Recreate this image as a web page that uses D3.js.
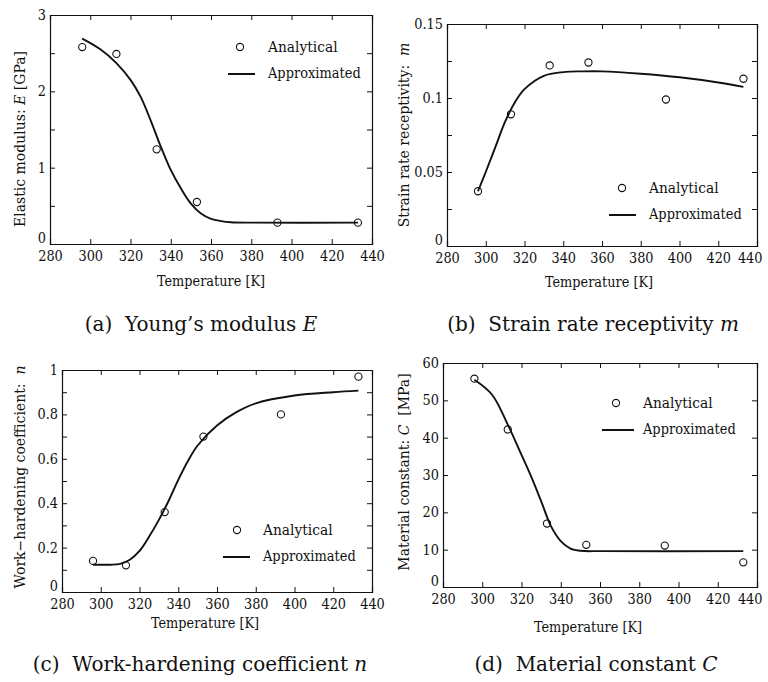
<!DOCTYPE html>
<html>
<head>
<meta charset="utf-8">
<script src="https://cdn.jsdelivr.net/npm/d3@7"></script>
<style>
  body { margin: 0; background: #fff; }
  svg { display: block; }
  svg text { font-family: 'DejaVu Serif', 'Liberation Serif', serif; fill: #111; }
</style>
</head>
<body>
<svg id="chart" width="768" height="682"></svg>
<script>
// ---- Data ----
const tempAnalytical = [296, 313, 333, 353, 393, 433];

const E_analytical = [2.58, 2.49, 1.24, 0.55, 0.28, 0.28];
const E_fitT = [296, 305, 313, 320, 325, 330, 335, 340, 345, 350, 355, 360, 365, 370, 380, 433];
const E_fit  = [2.69, 2.55, 2.37, 2.15, 1.93, 1.62, 1.28, 0.97, 0.73, 0.53, 0.40, 0.33, 0.30, 0.285, 0.28, 0.28];

const m_analytical = [0.037, 0.089, 0.122, 0.124, 0.099, 0.113];
const m_fitT = [296, 300, 305, 310, 315, 320, 330, 340, 350, 360, 380, 400, 420, 433];
const m_fit  = [0.037, 0.050, 0.067, 0.084, 0.097, 0.106, 0.1150, 0.1175, 0.118, 0.118, 0.1164, 0.114, 0.1105, 0.1075];

const n_analytical = [0.14, 0.12, 0.36, 0.70, 0.80, 0.97];
const n_fitT = [296, 305, 310, 315, 320, 325, 330, 335, 340, 345, 350, 360, 370, 380, 400, 420, 433];
const n_fit  = [0.123, 0.123, 0.127, 0.145, 0.185, 0.25, 0.325, 0.41, 0.505, 0.59, 0.66, 0.75, 0.81, 0.85, 0.885, 0.90, 0.907];

const C_analytical = [55.8, 42.2, 17.0, 11.3, 11.1, 6.6];
const C_fitT = [296, 305, 313, 320, 325, 330, 335, 340, 345, 350, 360, 433];
const C_fit  = [55.5, 51.5, 43.5, 35.4, 29.5, 23.0, 16.3, 12.3, 10.3, 9.7, 9.6, 9.6];

const xTicks = [280, 300, 320, 340, 360, 380, 400, 420, 440];
const E_ticks = [0, 1, 2, 3];
const m_ticks = [0, 0.05, 0.1, 0.15];
const n_ticks = [0, 0.2, 0.4, 0.6, 0.8, 1];
const C_ticks = [0, 10, 20, 30, 40, 50, 60];

const legendLabels = ["Analytical", "Approximated"];
const xTitle = "Temperature [K]";

// ---- Layout ----
const W = 768;
const FONT_STYLE = "font-family: 'DejaVu Serif', 'Liberation Serif', serif";
const FS = 14;          // axis / legend font size
const SQUEEZE = 0.92;   // horizontal condensing to mimic a Times-like face
const condense = (sel, f) => sel.each(function() {
  const w = this.getComputedTextLength();
  if (w > 0) d3.select(this).attr("textLength", w * f).attr("lengthAdjust", "spacingAndGlyphs");
});

const panels = [
  { x0: 50, x1: 372, y0: 15, y1: 244, yDom: [0, 3], ticks: E_ticks, minor: 0.5,
    pts: E_analytical, fitT: E_fitT, fit: E_fit,
    yLab: ["Elastic modulus: ", "E", " [GPa]"], yLabX: 20, yLabY: 139,
    xTickY: 261, xTitleX: 211, xTitleY: 286,
    leg: { cx: 240, cy: 47, tx: 268, ty1: 52, lx0: 228, lx1: 255, ly: 74, ty2: 78 },
    cap: ["(a)", "Young\u2019s modulus ", "E"], capX: 201, capY: 331 },
  { x0: 447, x1: 757, y0: 24, y1: 246, yDom: [0, 0.15], ticks: m_ticks, minor: 0.025,
    pts: m_analytical, fitT: m_fitT, fit: m_fit,
    yLab: ["Strain rate receptivity:  ", "m", ""], yLabX: 404, yLabY: 135,
    xTickY: 263, xTitleX: 599, xTitleY: 287,
    leg: { cx: 622, cy: 188, tx: 649, ty1: 193, lx0: 609, lx1: 636, ly: 215, ty2: 219 },
    cap: ["(b)", "Strain rate receptivity ", "m"], capX: 593, capY: 331 },
  { x0: 62, x1: 372, y0: 370, y1: 592, yDom: [0, 1], ticks: n_ticks, minor: 0.1,
    pts: n_analytical, fitT: n_fitT, fit: n_fit,
    yLab: ["Work\u2212hardening coefficient:  ", "n", ""], yLabX: 20, yLabY: 477,
    xTickY: 609, xTitleX: 205, xTitleY: 628,
    leg: { cx: 237, cy: 530, tx: 263, ty1: 535, lx0: 223, lx1: 250, ly: 557, ty2: 561 },
    cap: ["(c)", "Work-hardening coefficient ", "n"], capX: 200, capY: 671 },
  { x0: 443, x1: 757, y0: 363, y1: 587, yDom: [0, 60], ticks: C_ticks, minor: 10,
    pts: C_analytical, fitT: C_fitT, fit: C_fit,
    yLab: ["Material constant: ", "C", "  [MPa]"], yLabX: 404, yLabY: 472,
    xTickY: 604, xTitleX: 588, xTitleY: 632,
    leg: { cx: 616, cy: 403, tx: 643, ty1: 408, lx0: 602, lx1: 634, ly: 430, ty2: 434 },
    cap: ["(d)", "Material constant ", "C"], capX: 596, capY: 671 }
];

const svg = d3.select("#chart");

panels.forEach(p => {
  const x = d3.scaleLinear().domain([280, 440]).range([p.x0, p.x1]);
  const y = d3.scaleLinear().domain(p.yDom).range([p.y1, p.y0]);
  const g = svg.append("g");
  const tickLen = 5;

  const yAll = d3.range(p.yDom[0], p.yDom[1] + p.minor / 2, p.minor);
  const isMajor = d => p.ticks.some(t => Math.abs(t - d) < 1e-9);

  const axB = d3.axisBottom(x).tickValues(xTicks).tickSize(-tickLen).tickFormat(d => d);
  const axT = d3.axisTop(x).tickValues(xTicks).tickSize(-tickLen).tickFormat("");
  const axL = d3.axisLeft(y).tickValues(yAll).tickSize(-tickLen).tickPadding(4)
      .tickFormat(d => isMajor(d) ? String(+d.toFixed(4)) : "");
  const axR = d3.axisRight(y).tickValues(yAll).tickSize(-tickLen).tickFormat("");

  const styleAxis = sel => {
    sel.attr("font-family", null).attr("font-size", FS);
    sel.select(".domain").attr("stroke", "#111").attr("stroke-width", 1.2);
    sel.selectAll(".tick line").attr("stroke", "#111").attr("stroke-width", 1);
    sel.selectAll("text").attr("style", FONT_STYLE).attr("font-size", FS).attr("fill", "#111");
  };

  const gb = g.append("g").attr("transform", `translate(0,${p.y1})`).call(axB).call(styleAxis);
  gb.selectAll("text").attr("y", p.xTickY - p.y1).attr("dy", 0).call(condense, SQUEEZE);
  // keep the last x label inside the page (with a small margin)
  gb.selectAll(".tick text").each(function(d) {
    const w = Math.max(this.getBBox().width, this.getComputedTextLength());
    const over = x(d) + w / 2 - (W - 6);
    if (over > 0) d3.select(this).attr("dx", -over);
  });
  g.append("g").attr("transform", `translate(0,${p.y0})`).call(axT).call(styleAxis);
  const gl = g.append("g").attr("transform", `translate(${p.x0},0)`).call(axL).call(styleAxis);
  gl.selectAll(".tick text").call(condense, SQUEEZE);
  gl.selectAll(".tick text").filter(d => Math.abs(d) < 1e-12).attr("dy", "-0.1em");
  g.append("g").attr("transform", `translate(${p.x1},0)`).call(axR).call(styleAxis);

  // fitted curve
  const line = d3.line().x(d => x(d[0])).y(d => y(d[1])).curve(d3.curveCatmullRom.alpha(0.5));
  g.append("path").datum(p.fitT.map((t, i) => [t, p.fit[i]]))
    .attr("d", line).attr("fill", "none").attr("stroke", "#111").attr("stroke-width", 1.9);

  // analytical points
  g.selectAll("circle.pt").data(tempAnalytical.map((t, i) => [t, p.pts[i]])).enter()
    .append("circle").attr("class", "pt")
    .attr("cx", d => x(d[0])).attr("cy", d => y(d[1])).attr("r", 3.6)
    .attr("fill", "none").attr("stroke", "#111").attr("stroke-width", 1.1);

  // x title
  g.append("text").attr("x", p.xTitleX).attr("y", p.xTitleY).attr("text-anchor", "middle")
    .attr("style", FONT_STYLE).attr("font-size", FS).text(xTitle).call(condense, SQUEEZE);

  // y title
  const yt = g.append("text").attr("transform", `translate(${p.yLabX},${p.yLabY}) rotate(-90)`)
    .attr("text-anchor", "middle").attr("dy", "0.35em").attr("font-size", FS)
    .attr("style", FONT_STYLE + "; white-space: pre");
  yt.append("tspan").text(p.yLab[0]);
  yt.append("tspan").attr("font-style", "italic").text(p.yLab[1]);
  yt.append("tspan").text(p.yLab[2]);

  // legend
  const L = p.leg;
  g.append("circle").attr("cx", L.cx).attr("cy", L.cy).attr("r", 3.6)
    .attr("fill", "none").attr("stroke", "#111").attr("stroke-width", 1.1);
  g.append("text").attr("x", L.tx).attr("y", L.ty1).attr("style", FONT_STYLE).attr("font-size", FS + 1)
    .text(legendLabels[0]).call(condense, SQUEEZE);
  g.append("line").attr("x1", L.lx0).attr("x2", L.lx1).attr("y1", L.ly).attr("y2", L.ly)
    .attr("stroke", "#111").attr("stroke-width", 2);
  g.append("text").attr("x", L.tx).attr("y", L.ty2).attr("style", FONT_STYLE).attr("font-size", FS + 1)
    .text(legendLabels[1]).call(condense, SQUEEZE * 0.94);

  // caption
  const ct = svg.append("text").attr("x", p.capX).attr("y", p.capY).attr("text-anchor", "middle")
    .attr("font-size", 20).attr("style", FONT_STYLE + "; white-space: pre");
  ct.append("tspan").text(p.cap[0] + "  ");
  ct.append("tspan").text(p.cap[1]);
  ct.append("tspan").attr("font-style", "italic").text(p.cap[2]);
});
</script>
</body>
</html>
